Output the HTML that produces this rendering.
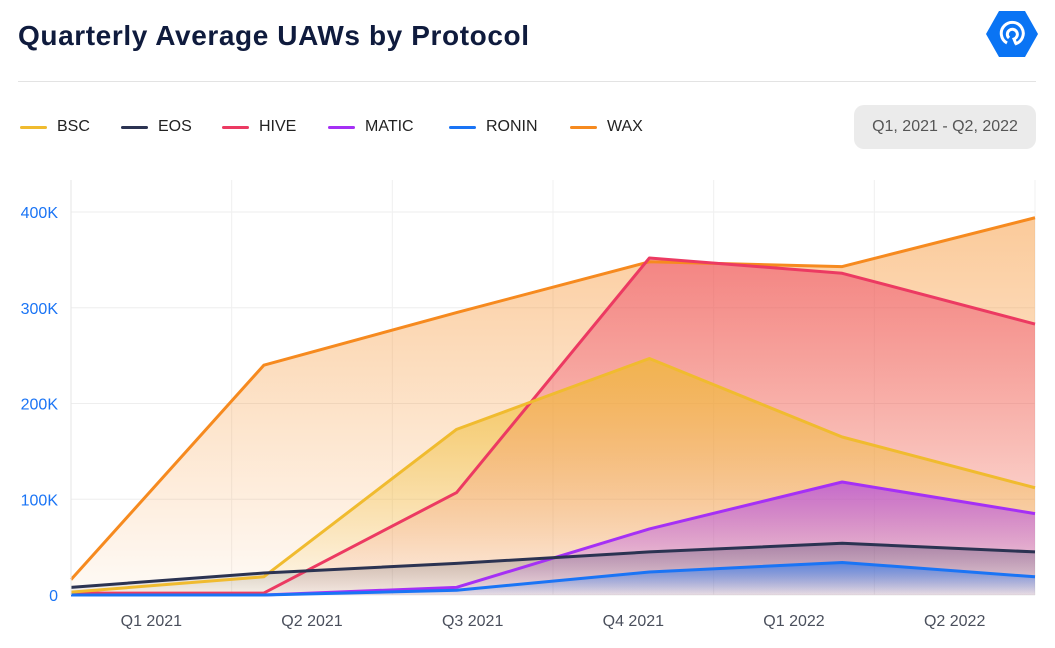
<!DOCTYPE html>
<html><head><meta charset="utf-8"><style>
body{margin:0;width:1055px;height:648px;background:#fff;font-family:"Liberation Sans",sans-serif;overflow:hidden;position:relative}
.t{position:absolute;left:18px;top:20px;font-size:28px;font-weight:bold;color:#0f1b3d;letter-spacing:0.6px}
.hr{position:absolute;left:18px;top:81px;width:1018px;height:1px;background:#e3e3e3}
.lg{position:absolute;top:118px;font-size:16px;color:#222;display:flex;align-items:center}
.lg span{display:inline-block;width:27px;height:3px;margin-right:10px;border-radius:2px}
.btn{position:absolute;left:854px;top:105px;width:182px;height:44px;background:#ebebeb;border-radius:10px;font-size:16px;color:#555;text-align:center;line-height:44px}
</style></head><body>
<div class="t">Quarterly Average UAWs by Protocol</div>
<svg style="position:absolute;left:985px;top:10px" width="54" height="48" viewBox="0 0 54 48"><polygon points="14,1 40,1 53,24 40,47 14,47 1,24" fill="#0a74f4"/><path d="M22 33 A11 11 0 1 1 30 34" fill="none" stroke="#fff" stroke-width="3"/><path d="M24 28 A5 5 0 1 1 29 29 L31 34" fill="none" stroke="#fff" stroke-width="3"/></svg>
<div class="hr"></div>
<div class="lg" style="left:20px"><span style="background:#f0bb2f"></span>BSC</div>
<div class="lg" style="left:121px"><span style="background:#2b3352"></span>EOS</div>
<div class="lg" style="left:222px"><span style="background:#ec3a62"></span>HIVE</div>
<div class="lg" style="left:328px"><span style="background:#a530f5"></span>MATIC</div>
<div class="lg" style="left:449px"><span style="background:#1a74f5"></span>RONIN</div>
<div class="lg" style="left:570px"><span style="background:#f68a1f"></span>WAX</div>
<div class="btn">Q1, 2021 - Q2, 2022</div>
<svg id="c" width="1055" height="648" style="position:absolute;left:0;top:0"></svg>
<script>
const categories=["Q1 2021","Q2 2021","Q3 2021","Q4 2021","Q1 2022","Q2 2022"];
const yTicks=[0,100000,200000,300000,400000];
const yTickLabels=["0","100K","200K","300K","400K"];
const wax=[16000,240000,295000,348000,343000,394000];
const hive=[2000,2000,107000,352000,336000,283000];
const bsc=[3000,19000,173000,247000,165000,112000];
const matic=[0,0,8000,69000,118000,85000];
const eos=[8000,23000,33000,45000,54000,45000];
const ronin=[0,0,5000,24000,34000,19000];
const series=[["wax",wax,"#f68a1f",0.45],["hive",hive,"#ec3a62",0.5],["bsc",bsc,"#f0bb2f",0.7],["matic",matic,"#a530f5",0.6],["eos",eos,"#2b3352",0.3],["ronin",ronin,"#1a74f5",0.6]];
const L=71,R=1035,Y0=595,Y4=212;
const y=v=>Y0-(v/400000)*(Y0-Y4);
const px=i=>L+i*(R-L)/(wax.length-1);
const band=(R-L)/categories.length;
const s=document.getElementById('c');const NS="http://www.w3.org/2000/svg";
function mk(t,a){const e=document.createElementNS(NS,t);for(const k in a)e.setAttribute(k,a[k]);s.appendChild(e);return e;}
const defs=mk('defs',{});
yTicks.forEach((v,i)=>{
 const g=mk('line',{x1:L,x2:R,y1:y(v),y2:y(v),stroke:'#eee'});
 
 
 const t=mk('text',{x:58,y:y(v)+6,'text-anchor':'end','font-size':16,fill:'#1a74f5','font-family':'Liberation Sans'});
 t.textContent=yTickLabels[i];
 
 
});
for(let i=0;i<=categories.length;i++){
 const g=mk('line',{x1:L+i*band,x2:L+i*band,y1:180,y2:Y0,stroke:'#f0f0f0'});
 
 
}
categories.forEach((c,i)=>{
 const t=mk('text',{x:L+(i+0.5)*band,y:626,'text-anchor':'middle','font-size':16,fill:'#4a4f5c','font-family':'Liberation Sans'});
 t.textContent=c;
 
 
});
series.forEach(([n,d,col,op])=>{
 const gr=document.createElementNS(NS,'linearGradient');gr.id='g'+n;gr.setAttribute('x1',0);gr.setAttribute('x2',0);gr.setAttribute('y1',0);gr.setAttribute('y2',1);
 gr.innerHTML=`<stop offset="0" stop-color="${col}" stop-opacity="${op}"/><stop offset="1" stop-color="${col}" stop-opacity="0.04"/>`;
 defs.appendChild(gr);
 const pts=d.map((v,i)=>px(i)+','+y(v)).join(' ');
 const a=mk('polygon',{points:pts+` ${R},${Y0} ${L},${Y0}`,fill:`url(#g${n})`});
 
 
});
series.forEach(([n,d,col])=>{
 const l=mk('polyline',{points:d.map((v,i)=>px(i)+','+y(v)).join(' '),fill:'none',stroke:col,'stroke-width':3,'stroke-linejoin':'round'});
 
 
});
const ax=mk('line',{x1:L,x2:L,y1:180,y2:Y0,stroke:'#e6e6e6'});


</script>
</body></html>
